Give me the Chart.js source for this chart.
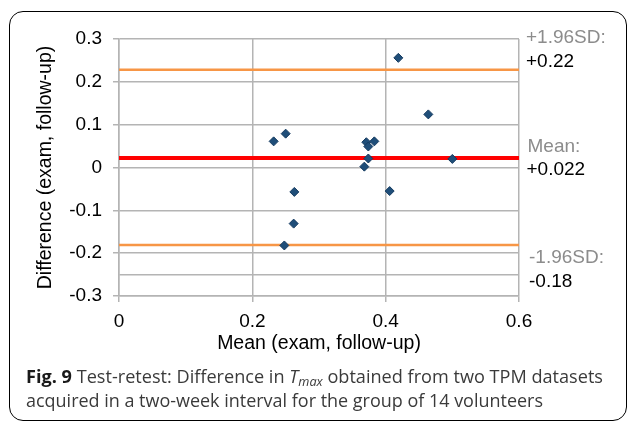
<!DOCTYPE html>
<html>
<head>
<meta charset="utf-8">
<script src="https://cdn.jsdelivr.net/npm/chart.js@4"></script>
<style>
  html, body { margin: 0; padding: 0; background: #fff; width: 630px; height: 421px; overflow: hidden; position: relative; font-family: "Liberation Sans", Arial, sans-serif; }
  #frame { position: absolute; left: 9px; top: 11px; width: 616px; height: 408px; border: 1.5px solid #000; border-radius: 14px; }
  #wrap { position: absolute; left: 0; top: 0; width: 630px; height: 370px; }
  .note { position: absolute; font-size: 19px; line-height: 19px; white-space: nowrap; color: #000; }
  .grey { color: #8c8c8c; }
  .caption { position: absolute; left: 26px; font-family: "Open Sans", sans-serif; font-size: 18.5px; line-height: 18.5px; color: #3a3a3a; white-space: nowrap; transform-origin: 0 0; }
  .caption b { color: #1a1a1a; }
</style>
</head>
<body>
<div id="frame"></div>
<div id="wrap"><canvas id="baCanvas" width="630" height="370"></canvas></div>

<div class="note grey" style="left:526px; top:26.5px">+1.96SD:</div>
<div class="note" style="left:526px; top:50.5px">+0.22</div>
<div class="note grey" style="left:527.5px; top:135.5px">Mean:</div>
<div class="note" style="left:526.5px; top:159px">+0.022</div>
<div class="note grey" style="left:529px; top:247px">-1.96SD:</div>
<div class="note" style="left:529px; top:270.5px">-0.18</div>

<div class="caption" id="cap1" style="top:367px"><b>Fig. 9</b> Test-retest: Difference in <i>T<sub style="font-size:13px;vertical-align:-3px">max</sub></i> obtained from two TPM datasets</div>
<div class="caption" id="cap2" style="top:391px">acquired in a two-week interval for the group of 14 volunteers</div>

<script>
// Bland-Altman plot, values
const meanX = [0.232, 0.250, 0.263, 0.419, 0.464, 0.371, 0.383, 0.374, 0.374, 0.368, 0.500, 0.406, 0.262, 0.248];
const diffY = [0.061, 0.079, -0.057, 0.256, 0.124, 0.059, 0.061, 0.049, 0.021, 0.002, 0.020, -0.055, -0.131, -0.182];

const xTicks = [0, 0.2, 0.4, 0.6];
const yTicks = [-0.3, -0.25, -0.2, -0.1, 0, 0.1, 0.2, 0.3];

const upperLoA = 0.228;
const meanDiff = 0.022;
const lowerLoA = -0.181;

const gridGrey = '#b4b4b4';
const tickFont = { family: '"Liberation Sans", Arial, sans-serif', size: 19 };
const titleFont = { family: '"Liberation Sans", Arial, sans-serif', size: 19.5 };

function hLine(y) {
    return [{ x: xTicks[0], y: y }, { x: xTicks[xTicks.length - 1], y: y }];
}

const ctx = document.getElementById('baCanvas').getContext('2d');
new Chart(ctx, {
    type: 'scatter',
    data: {
        datasets: [
            {
                label: 'Difference',
                data: meanX.map((x, i) => ({ x: x, y: diffY[i] })),
                pointStyle: 'rectRot',
                pointRadius: 4.5,
                backgroundColor: '#1f4e79',
                borderColor: '#163b60',
                borderWidth: 1,
                order: 0
            },
            {
                label: '+1.96SD',
                type: 'line',
                data: hLine(upperLoA),
                borderColor: '#f79646',
                borderWidth: 2.5,
                pointRadius: 0,
                order: 1
            },
            {
                label: '-1.96SD',
                type: 'line',
                data: hLine(lowerLoA),
                borderColor: '#f79646',
                borderWidth: 2.5,
                pointRadius: 0,
                order: 1
            },
            {
                label: 'Mean',
                type: 'line',
                data: hLine(meanDiff),
                borderColor: '#ff0000',
                borderWidth: 4,
                pointRadius: 0,
                order: 1
            }
        ]
    },
    options: {
        responsive: false,
        animation: false,
        devicePixelRatio: 1,
        layout: { padding: { top: 39, right: 111, left: 0, bottom: 0 } },
        plugins: { legend: { display: false }, tooltip: { enabled: false } },
        scales: {
            x: {
                type: 'linear',
                min: 0,
                max: 0.6,
                afterBuildTicks: scale => { scale.ticks = xTicks.map(v => ({ value: v })); },
                afterFit: scale => { scale.height = 74; },
                grid: { color: gridGrey, lineWidth: 1.5, tickLength: 6 },
                border: { color: gridGrey, width: 1.5 },
                ticks: { font: tickFont, color: '#000', padding: 8, callback: v => String(v) },
                title: { display: true, text: 'Mean (exam, follow-up)', font: titleFont, color: '#000', padding: { top: 0, bottom: 15 } }
            },
            y: {
                type: 'linear',
                min: -0.3,
                max: 0.3,
                afterBuildTicks: scale => { scale.ticks = yTicks.map(v => ({ value: v })); },
                afterFit: scale => { scale.width = 119; },
                grid: {
                    color: gridGrey,
                    lineWidth: 1.5,
                    tickLength: 6,
                    tickColor: c => (c.tick && c.tick.value === -0.25) ? 'rgba(0,0,0,0)' : gridGrey
                },
                border: { color: gridGrey, width: 1.5 },
                ticks: { font: tickFont, color: '#000', padding: 11, callback: v => v === -0.25 ? '' : String(v) },
                title: { display: true, text: 'Difference (exam, follow-up)', font: titleFont, color: '#000', padding: { top: 34, bottom: 0 } }
            }
        }
    }
});

// squeeze caption lines to the width they take in the figure
const capWidths = { cap1: 577, cap2: 517 };
Object.keys(capWidths).forEach(id => {
    const el = document.getElementById(id);
    const w = el.getBoundingClientRect().width;
    el.style.transform = 'scaleX(' + (capWidths[id] / w) + ')';
});
</script>
</body>
</html>
